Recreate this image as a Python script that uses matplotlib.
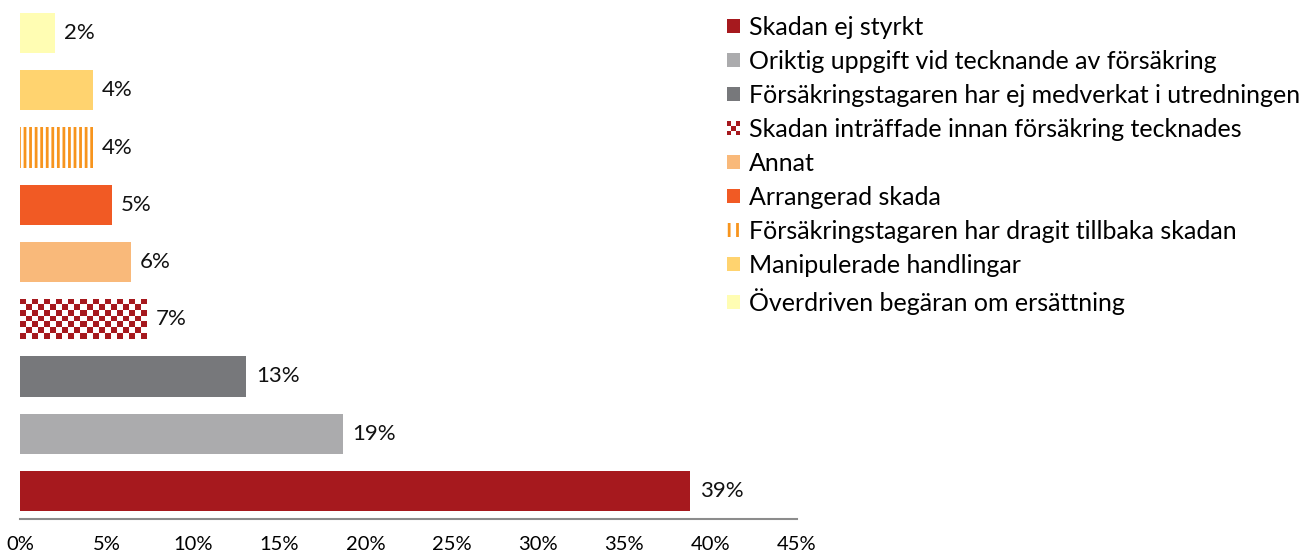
import numpy as np
import matplotlib
matplotlib.use("Agg")
import matplotlib.pyplot as plt
from matplotlib.colors import ListedColormap
from matplotlib.legend_handler import HandlerBase
from matplotlib.patches import Patch, Rectangle
from matplotlib.ticker import FuncFormatter

plt.rcParams["font.family"] = ["Lato", "DejaVu Sans"]
plt.rcParams["hatch.linewidth"] = 2.0

# bottom to top, same order as the legend top to bottom
categories = [
    "Skadan ej styrkt",
    "Oriktig uppgift vid tecknande av försäkring",
    "Försäkringstagaren har ej medverkat i utredningen",
    "Skadan inträffade innan försäkring tecknades",
    "Annat",
    "Arrangerad skada",
    "Försäkringstagaren har dragit tillbaka skadan",
    "Manipulerade handlingar",
    "Överdriven begäran om ersättning",
]
values = [38.8, 18.7, 13.1, 7.3, 6.4, 5.3, 4.2, 4.2, 2.0]
value_labels = ["39%", "19%", "13%", "7%", "6%", "5%", "4%", "4%", "2%"]
colors = ["#A6191E", "#ABABAD", "#77787B", "#A6191E", "#F9B97A",
          "#F15A24", "#F7941D", "#FFD36F", "#FFFDB3"]
hatches = [None, None, None, "checker", None, None, "|||", None, None]
xticks = [0, 5, 10, 15, 20, 25, 30, 35, 40, 45]


class CheckerHandler(HandlerBase):
    def create_artists(self, legend, orig_handle, xdescent, ydescent,
                       width, height, fontsize, trans):
        arts = [Rectangle((-xdescent, -ydescent), width, height,
                          facecolor="white", edgecolor="none", transform=trans)]
        cw, ch = width / 3, height / 3
        for i in range(3):
            for j in range(3):
                if (i + j) % 2 == 0:
                    arts.append(Rectangle((-xdescent + i * cw, -ydescent + j * ch), cw, ch,
                                          facecolor=orig_handle.get_facecolor(),
                                          edgecolor="none", transform=trans))
        return arts


fig = plt.figure(figsize=(13.04, 5.56), dpi=100)
ax = fig.add_axes([20 / 1304, 37 / 556, 777 / 1304, 514 / 556])

pos = np.arange(len(categories))
bar_h = 0.7
handles = []
for p, v, c, h, lab in zip(pos, values, colors, hatches, categories):
    if h == "checker":
        bar = ax.barh(p, v, height=bar_h, color="white", linewidth=0)[0]
        nrows = 7
        ncols = int(round(v / 0.35))
        board = 1 - np.indices((nrows, ncols)).sum(axis=0) % 2
        im = ax.imshow(board, cmap=ListedColormap(["white", c]), aspect="auto",
                       interpolation="nearest",
                       extent=(0, v, p - bar_h / 2, p + bar_h / 2), zorder=2)
        im.set_clip_path(bar)
        handles.append(Patch(facecolor=c, label=lab))
    elif h:
        ax.barh(p, v, height=bar_h, facecolor="white", edgecolor=c, hatch=h, linewidth=0)
        handles.append(Patch(facecolor="white", edgecolor=c, hatch="||", linewidth=0, label=lab))
    else:
        ax.barh(p, v, height=bar_h, color=c, linewidth=0)
        handles.append(Patch(facecolor=c, label=lab))
    ax.annotate(value_labels[p], (v, p), xytext=(7, 0), textcoords="offset points",
                va="center", ha="left", fontsize=16, color="#111111")

ax.set_xlim(0, 45)
ax.set_ylim(-0.49, len(categories) - 0.51)
ax.set_xticks(xticks)
ax.xaxis.set_major_formatter(FuncFormatter(lambda x, _: f"{x:.0f}%"))
ax.tick_params(axis="x", length=0, pad=12, labelsize=14.5)
ax.set_yticks([])
for s in ["top", "right", "left"]:
    ax.spines[s].set_visible(False)
ax.spines["bottom"].set_color("#8C8C8C")
ax.spines["bottom"].set_linewidth(1.5)

checker_handle = handles[3]
fig.legend(handles=handles, loc="upper left",
           bbox_to_anchor=(727 / 1304, 1 - 16 / 556), frameon=False, fontsize=18,
           handlelength=0.52, handleheight=0.52, handletextpad=0.36,
           labelspacing=0.44, borderpad=0, borderaxespad=0,
           handler_map={checker_handle: CheckerHandler()})

fig.savefig("out.png", dpi=100)
